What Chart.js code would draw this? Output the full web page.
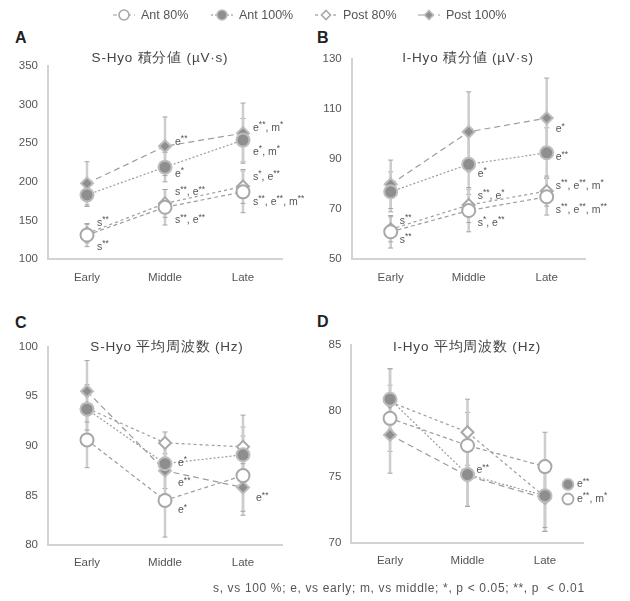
<!DOCTYPE html>
<html><head><meta charset="utf-8">
<script src="https://cdn.jsdelivr.net/npm/chart.js@4/dist/chart.umd.min.js"></script>
<style>
body{margin:0;background:#fff;width:630px;height:601px;position:relative;overflow:hidden;font-family:"Liberation Sans",Arial,sans-serif;}
.pc{position:absolute;}
.leg{position:absolute;top:7px;height:16px;display:flex;align-items:center;font-size:12.5px;color:#555;white-space:nowrap;}
.leg canvas{margin-right:6px;}
.pl{position:absolute;font-weight:bold;font-size:16px;color:#222;line-height:16px;}
#foot{position:absolute;left:213px;top:581px;font-size:12px;letter-spacing:0.65px;color:#555;white-space:pre;line-height:14px;}
</style></head>
<body>
<div class="pl" style="left:15px;top:30px">A</div>
<div class="pl" style="left:317px;top:30px">B</div>
<div class="pl" style="left:15px;top:315px">C</div>
<div class="pl" style="left:317px;top:314px">D</div>
<div class="pc" style="left:0;top:0"><canvas id="cA" width="320" height="300"></canvas></div>
<div class="pc" style="left:300px;top:0"><canvas id="cB" width="320" height="300"></canvas></div>
<div class="pc" style="left:0;top:290px"><canvas id="cC" width="320" height="311"></canvas></div>
<div class="pc" style="left:300px;top:290px"><canvas id="cD" width="320" height="311"></canvas></div>
<div id="foot">s, vs 100 %; e, vs early; m, vs middle; *, p &lt; 0.05; **, p  &lt; 0.01</div>
<script>
// ---------- data ----------
const CATS = ['Early', 'Middle', 'Late'];
const SERIES = ['Ant 80%', 'Ant 100%', 'Post 80%', 'Post 100%'];

// Panel A: S-Hyo 積分値 (µV·s)
const A_TITLE = 'S-Hyo 積分値 (µV·s)';
const A_TICKS = [100, 350, 50];
const A_ant80 = [131, 167, 187];
const A_ant80_sd = [15, 23, 27];
const A_ant100 = [183, 219, 254];
const A_ant100_sd = [15, 19, 28];
const A_post80 = [133, 172, 194];
const A_post80_sd = [12, 18, 22];
const A_post100 = [198, 246, 263];
const A_post100_sd = [28, 38, 39];
const A_SIG = [[0, 147, 's**'], [0, 115.5, 's**'], [1, 252, 'e**'], [1, 210, 'e*'], [1, 186, 's**, e**'], [1, 150, 's**, e**'],
  [2, 270, 'e**, m*'], [2, 239, 'e*, m*'], [2, 206.6, 's*, e**'], [2, 174, 's**, e**, m**']];

// Panel B: I-Hyo 積分値 (µV·s)
const B_TITLE = 'I-Hyo 積分値 (µV·s)';
const B_TICKS = [50, 130, 20];
const B_ant80 = [61, 69.5, 75];
const B_ant80_sd = [6.5, 8.5, 7.3];
const B_ant100 = [77, 88, 92.6];
const B_ant100_sd = [8, 12, 10];
const B_post80 = [62, 71.7, 77.3];
const B_post80_sd = [5, 7, 6];
const B_post100 = [80, 101, 106.5];
const B_post100_sd = [9.7, 16, 16];
const B_SIG = [[0, 65.3, 's**'], [0, 57.7, 's**'], [1, 84.1, 'e*'], [1, 75.4, 's**, e*'], [1, 64.6, 's*, e**'],
  [2, 102, 'e*'], [2, 90.8, 'e**'], [2, 79.3, 's**, e**, m*'], [2, 69.7, 's**, e**, m**']];

// Panel C: S-Hyo 平均周波数 (Hz)
const C_TITLE = 'S-Hyo 平均周波数 (Hz)';
const C_TICKS = [80, 100, 5];
const C_ant80 = [90.6, 84.5, 87.0];
const C_ant80_sd = [2.8, 3.7, 4.0];
const C_ant100 = [93.7, 88.2, 89.1];
const C_ant100_sd = [2.5, 2.5, 2.8];
const C_post80 = [93.8, 90.3, 89.9];
const C_post80_sd = [2.2, 1.1, 3.2];
const C_post100 = [95.5, 87.5, 85.8];
const C_post100_sd = [3.1, 2.5, 2.4];
const C_SIG = [[1, 88.3, 'e*'], [1, 86.2, 'e**'], [1, 83.5, 'e*'], [2, 84.7, 'e**']];

// Panel D: I-Hyo 平均周波数 (Hz)
const D_TITLE = 'I-Hyo 平均周波数 (Hz)';
const D_TICKS = [70, 85, 5];
const D_ant80 = [79.45, 77.4, 75.8];
const D_ant80_sd = [2.5, 2.5, 2.6];
const D_ant100 = [80.9, 75.2, 73.6];
const D_ant100_sd = [2.3, 2.4, 2.7];
const D_post80 = [80.7, 78.4, 73.5];
const D_post80_sd = [2.5, 2.5, 2.6];
const D_post100 = [78.2, 75.1, 73.4];
const D_post100_sd = [2.9, 2.3, 2.2];
const D_SIG = [[1, 75.5, 'e**'], [2, 74.45, 'e**', 'filled'], [2, 73.35, 'e**, m*', 'open']];

// ---------- styles ----------
const FF = '"Liberation Sans", Arial, sans-serif';
const GRAY_FILL = '#8e8e8e', GRAY_RING = '#bdbdbd', WHITE_RING = '#a8a8a8';
const STYLE = [
  {ps: 'circle', r: 6.5, bg: '#ffffff', bc: WHITE_RING, dash: [4, 3]},
  {ps: 'circle', r: 6.5, bg: GRAY_FILL, bc: GRAY_RING, dash: [2, 2]},
  {ps: 'rectRot', r: 6, bg: '#ffffff', bc: WHITE_RING, dash: [3, 3]},
  {ps: 'rectRot', r: 6, bg: GRAY_FILL, bc: GRAY_RING, dash: [6, 4]}
];

function drawSig(ctx, text, x, y) {
  let cx = x;
  ctx.fillStyle = '#555';
  ctx.textBaseline = 'middle';
  ctx.textAlign = 'left';
  for (const part of text.match(/\*+|[^*]+/g)) {
    if (part[0] === '*') {
      ctx.font = '8.5px ' + FF;
      ctx.fillText(part, cx, y - 3);
    } else {
      ctx.font = '10.5px ' + FF;
      ctx.fillText(part, cx, y);
    }
    cx += ctx.measureText(part).width;
  }
}

const errPlugin = {
  id: 'errBars',
  beforeDatasetsDraw(chart) {
    const ctx = chart.ctx, xs = chart.scales.x, ys = chart.scales.y;
    ctx.save();
    chart.data.datasets.forEach(ds => {
      ds.data.forEach((v, i) => {
        const x = xs.getPixelForValue(i);
        const y1 = ys.getPixelForValue(v - ds.sd[i]);
        const y2 = ys.getPixelForValue(v + ds.sd[i]);
        ctx.strokeStyle = '#cdcdcd';
        ctx.lineWidth = 2.5;
        ctx.setLineDash([]);
        ctx.beginPath(); ctx.moveTo(x, y1); ctx.lineTo(x, y2); ctx.stroke();
        ctx.strokeStyle = '#a5a5a5';
        ctx.lineWidth = 1;
        ctx.beginPath();
        ctx.moveTo(x - 2.5, y1); ctx.lineTo(x + 2.5, y1);
        ctx.moveTo(x - 2.5, y2); ctx.lineTo(x + 2.5, y2);
        ctx.stroke();
      });
    });
    ctx.restore();
  }
};

const decoPlugin = {
  id: 'deco',
  afterDraw(chart, args, opts) {
    const ctx = chart.ctx, xs = chart.scales.x, ys = chart.scales.y;
    ctx.save();
    ctx.fillStyle = '#444';
    ctx.font = '13.5px ' + FF;
    ctx.letterSpacing = '0.8px';
    ctx.textAlign = 'center';
    ctx.textBaseline = 'middle';
    ctx.fillText(opts.title, opts.titleX, opts.titleY);
    ctx.letterSpacing = '0px';
    (opts.sig || []).forEach(s => {
      const x = xs.getPixelForValue(s[0]) + opts.dx;
      const y = ys.getPixelForValue(s[1]);
      if (s[3]) {
        ctx.beginPath();
        ctx.arc(x + 14, y, 5.5, 0, Math.PI * 2);
        ctx.fillStyle = s[3] === 'filled' ? GRAY_FILL : '#ffffff';
        ctx.fill();
        ctx.lineWidth = 1.8;
        ctx.strokeStyle = s[3] === 'filled' ? GRAY_RING : WHITE_RING;
        ctx.stroke();
        drawSig(ctx, s[2], x + 23, y);
      } else {
        drawSig(ctx, s[2], x, y);
      }
    });
    ctx.restore();
  }
};

function makePanel(id, cfg) {
  const datasets = cfg.means.map((m, i) => ({
    label: SERIES[i], data: m, sd: cfg.sds[i],
    borderColor: '#9c9c9c', borderWidth: 1.2, borderDash: STYLE[i].dash,
    pointStyle: STYLE[i].ps, pointRadius: STYLE[i].r,
    pointBackgroundColor: STYLE[i].bg, pointBorderColor: STYLE[i].bc, pointBorderWidth: 2,
    fill: false, tension: 0, clip: false
  }));
  new Chart(document.getElementById(id), {
    type: 'line',
    data: {labels: CATS, datasets},
    options: {
      responsive: false, animation: false, events: [],
      layout: {padding: cfg.pad},
      plugins: {
        legend: {display: false}, tooltip: {enabled: false},
        deco: {title: cfg.title, titleX: cfg.titleX, titleY: cfg.titleY, sig: cfg.sig, dx: cfg.dx}
      },
      scales: {
        x: {
          type: 'category', offset: true,
          grid: {display: false, drawTicks: false},
          border: {color: '#d3d3d3', width: 2},
          ticks: {color: '#555', font: {size: 11.5, family: FF}, padding: cfg.xpad, maxRotation: 0},
          afterFit: a => { a.height = 28; }
        },
        y: {
          min: cfg.ticks[0], max: cfg.ticks[1],
          grid: {display: false, drawTicks: false},
          border: {color: '#d3d3d3', width: 2},
          ticks: {stepSize: cfg.ticks[2], color: '#555', font: {size: 11.5, family: FF}, padding: 10},
          afterFit: a => { a.width = 36; }
        }
      }
    },
    plugins: [errPlugin, decoPlugin]
  });
}

makePanel('cA', {
  means: [A_ant80, A_ant100, A_post80, A_post100],
  sds: [A_ant80_sd, A_ant100_sd, A_post80_sd, A_post100_sd],
  ticks: A_TICKS, title: A_TITLE, titleX: 160, titleY: 58, sig: A_SIG, dx: 10,
  pad: {left: 12, right: 38, top: 66, bottom: 13}, xpad: 12
});
makePanel('cB', {
  means: [B_ant80, B_ant100, B_post80, B_post100],
  sds: [B_ant80_sd, B_ant100_sd, B_post80_sd, B_post100_sd],
  ticks: B_TICKS, title: B_TITLE, titleX: 168, titleY: 58, sig: B_SIG, dx: 9,
  pad: {left: 15.7, right: 34.3, top: 59.3, bottom: 12.7}, xpad: 12
});
makePanel('cC', {
  means: [C_ant80, C_ant100, C_post80, C_post100],
  sds: [C_ant80_sd, C_ant100_sd, C_post80_sd, C_post100_sd],
  ticks: C_TICKS, title: C_TITLE, titleX: 167, titleY: 57, sig: C_SIG, dx: 13,
  pad: {left: 12, right: 38, top: 56.7, bottom: 28}, xpad: 11
});
makePanel('cD', {
  means: [D_ant80, D_ant100, D_post80, D_post100],
  sds: [D_ant80_sd, D_ant100_sd, D_post80_sd, D_post100_sd],
  ticks: D_TICKS, title: D_TITLE, titleX: 167, titleY: 57, sig: D_SIG, dx: 9,
  pad: {left: 15.3, right: 36.3, top: 55, bottom: 29.7}, xpad: 11
});

// ---------- legend ----------
const LEG_X = [113, 211, 315, 418];
SERIES.forEach((name, i) => {
  const d = document.createElement('div');
  d.className = 'leg';
  d.style.left = LEG_X[i] + 'px';
  const c = document.createElement('canvas');
  c.width = 22; c.height = 16;
  const g = c.getContext('2d');
  g.strokeStyle = '#9c9c9c'; g.lineWidth = 1.2; g.setLineDash(STYLE[i].dash);
  g.beginPath(); g.moveTo(0, 8); g.lineTo(22, 8); g.stroke();
  g.setLineDash([]);
  const r = STYLE[i].r - 1.5;
  g.beginPath();
  if (STYLE[i].ps === 'circle') g.arc(11, 8, r, 0, Math.PI * 2);
  else { g.moveTo(11, 8 - r); g.lineTo(11 + r, 8); g.lineTo(11, 8 + r); g.lineTo(11 - r, 8); g.closePath(); }
  g.fillStyle = STYLE[i].bg; g.fill();
  g.lineWidth = 1.6; g.strokeStyle = STYLE[i].bc; g.stroke();
  d.appendChild(c);
  const s = document.createElement('span');
  s.textContent = name;
  d.appendChild(s);
  document.body.appendChild(d);
});
</script>
</body></html>
